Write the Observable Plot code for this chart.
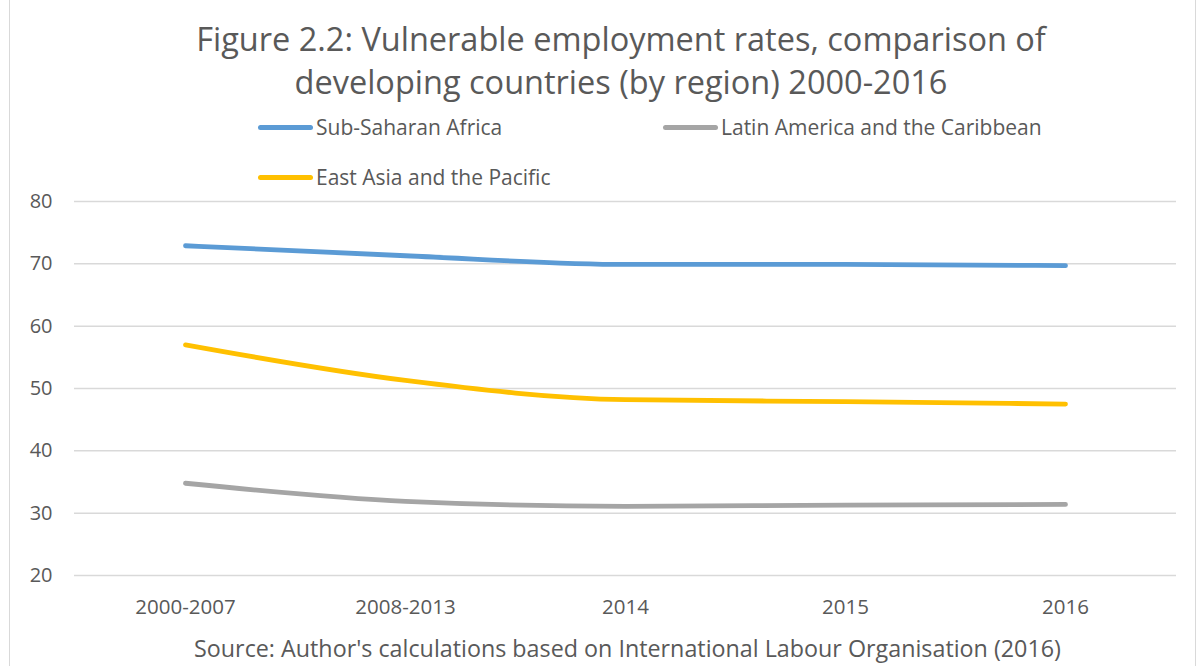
<!DOCTYPE html>
<html>
<head>
<meta charset="utf-8">
<script src="https://cdn.jsdelivr.net/npm/d3@7"></script>
<script src="https://cdn.jsdelivr.net/npm/@observablehq/plot@0.6"></script>
<style>
  body { margin: 0; background: #fff; }
  #wrap { position: relative; width: 1200px; height: 666px; overflow: hidden; font-family: "Open Sans", sans-serif; color: #595959; }
  #frame { position: absolute; left: 9px; top: -2px; width: 1187px; height: 680px; border: 1.5px solid #D9D9D9; box-sizing: border-box; }
  #title { position: absolute; left: 0; width: 1242px; top: 17px; text-align: center; font-size: 32.5px; line-height: 43px; }
  .leg { position: absolute; font-size: 21px; display: flex; align-items: center; white-space: nowrap; }
  .leg span.sw { display: inline-block; width: 55px; height: 5px; border-radius: 3px; margin-right: 3px; }
  #chart { position: absolute; left: 0; top: 170px; }
  #caption { position: absolute; left: 0; width: 1255px; top: 632px; text-align: center; font-size: 23.3px; }
</style>
</head>
<body>
<div id="wrap">
  <div id="frame"></div>
  <div id="title">Figure 2.2: Vulnerable employment rates, comparison of<br>developing countries (by region) 2000-2016</div>
  <div id="legend"></div>
  <div id="chart"></div>
  <div id="caption">Source: Author's calculations based on International Labour Organisation (2016)</div>
</div>
<script>
const periods = ["2000-2007", "2008-2013", "2014", "2015", "2016"];
const seriesNames = ["Sub-Saharan Africa", "Latin America and the Caribbean", "East Asia and the Pacific"];
const subSaharanAfrica = [72.9, 71.3, 69.9, 69.9, 69.7];
const latinAmerica = [34.8, 31.9, 31.1, 31.3, 31.4];
const eastAsiaPacific = [57.0, 51.3, 48.2, 47.9, 47.5];
const colors = ["#5B9BD5", "#A5A5A5", "#FFC000"];
const yTicks = [20, 30, 40, 50, 60, 70, 80];

const valuesBySeries = [subSaharanAfrica, latinAmerica, eastAsiaPacific];
const data = [];
seriesNames.forEach((s, i) => periods.forEach((p, j) => data.push({series: s, period: p, value: valuesBySeries[i][j]})));

// legend
const legendPos = [[258, 113], [663, 113], [258, 163]];
const legend = document.getElementById("legend");
seriesNames.forEach((s, i) => {
  const d = document.createElement("div");
  d.className = "leg";
  d.style.left = legendPos[i][0] + "px";
  d.style.top = legendPos[i][1] + "px";
  d.innerHTML = `<span class="sw" style="background:${colors[i]}"></span>${s}`;
  legend.appendChild(d);
});

const plot = Plot.plot({
  width: 1200,
  height: 450,
  marginLeft: 74,
  marginRight: 24,
  marginTop: 31,
  marginBottom: 45,
  style: {fontFamily: "'Open Sans', sans-serif", fontSize: "20px", color: "#595959", background: "transparent"},
  x: {type: "point", domain: periods, padding: 0.5, label: null, tickSize: 0, tickPadding: 24},
  y: {domain: [20, 80], ticks: yTicks, label: null, tickSize: 0, tickPadding: 22},
  color: {domain: seriesNames, range: colors},
  marks: [
    Plot.ruleY(yTicks, {stroke: "#D9D9D9", strokeWidth: 1.5}),
    Plot.axisY({ticks: yTicks, tickSize: 0, tickPadding: 22, label: null, fill: "#595959", fontSize: 20}),
    Plot.axisX({tickSize: 0, tickPadding: 24, label: null, fill: "#595959", fontSize: 20.5}),
    Plot.line(data, {x: "period", y: "value", z: "series", stroke: "series", strokeWidth: 4.8, curve: "monotone-x", strokeLinecap: "round"})
  ]
});
document.getElementById("chart").appendChild(plot);
</script>
</body>
</html>
